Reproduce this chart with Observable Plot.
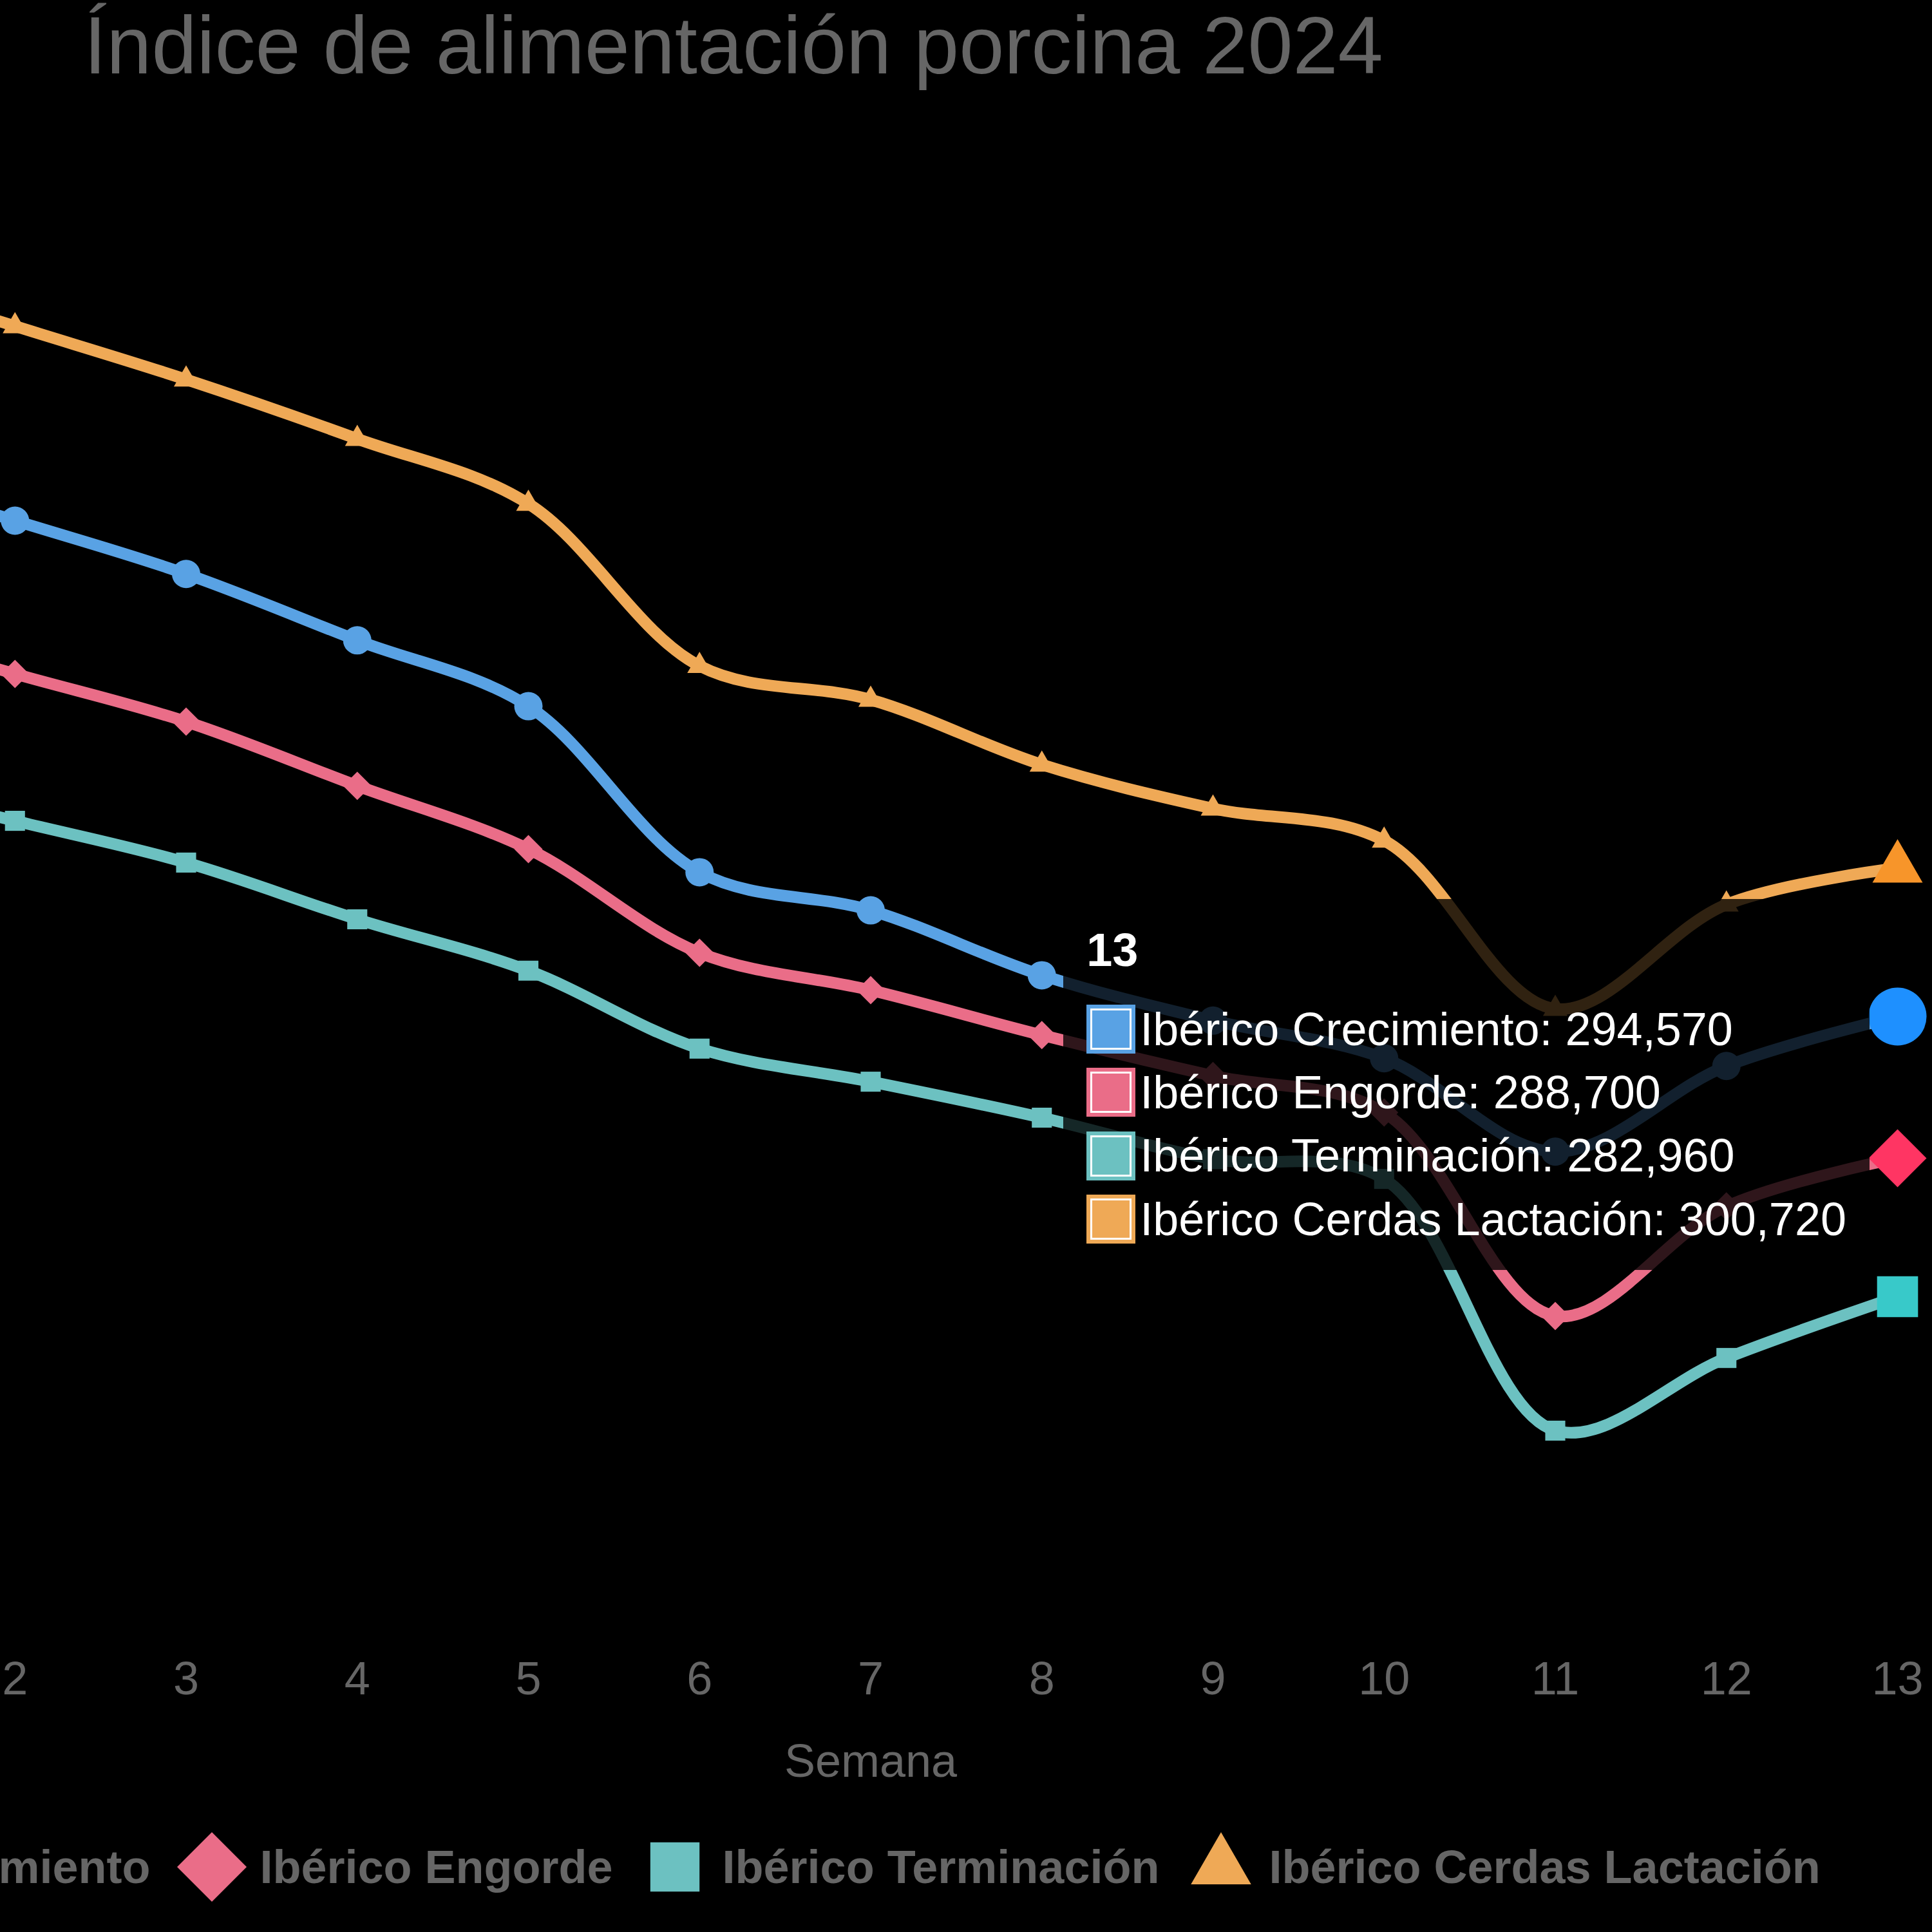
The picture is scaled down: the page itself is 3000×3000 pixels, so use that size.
<!DOCTYPE html>
<html lang="es">
<head>
<meta charset="utf-8">
<title>Índice de alimentación porcina 2024</title>
<script src="https://cdn.jsdelivr.net/npm/d3@7"></script>
<script src="https://cdn.jsdelivr.net/npm/@observablehq/plot@0.6"></script>
<style>
  html, body { margin: 0; padding: 0; background: #000; width: 3000px; height: 3000px; overflow: hidden; }
  /* the chart canvas is wider than the viewport; its left part (y axis) sits off screen */
  #frame {
    position: absolute; left: -722px; top: 0; width: 3722px; height: 3000px;
    font-family: "Helvetica Neue", Helvetica, Arial, "Liberation Sans", sans-serif;
  }
  #chart { position: absolute; left: 0; top: 0; }
  #title {
    position: absolute; left: 0; top: 8px; width: 100%;
    text-align: center; font-size: 126px; line-height: 1; color: #666; white-space: nowrap;
  }
  #legend {
    position: absolute; left: 0; top: 2856px; width: 100%;
    display: flex; justify-content: center; gap: 60px;
    font-size: 72px; font-weight: bold; line-height: 86.4px; color: #666; white-space: nowrap;
  }
  .legend-item { display: flex; align-items: center; }
  .legend-marker { flex: none; margin-right: 38px; overflow: visible; }
  .tip {
    position: absolute; transform: translateY(-50%);
    padding: 36px; background: rgba(0, 0, 0, 0.8); color: #fff;
    font-size: 72px; line-height: 86.4px; white-space: nowrap;
  }
  .tip-title { font-weight: bold; margin-bottom: 36px; }
  .tip-row { display: flex; align-items: center; }
  .tip-row + .tip-row { margin-top: 12px; }
  .swatch { flex: none; width: 76px; height: 76px; margin-right: 7px; }
</style>
</head>
<body>
<div id="frame">
  <div id="title">Índice de alimentación porcina 2024</div>
  <div id="chart"></div>
  <div id="legend"></div>
</div>
<script>
// Weekly feed index per category (2024)
const weeks = [1, 2, 3, 4, 5, 6, 7, 8, 9, 10, 11, 12, 13];
const seriesNames = ["Ibérico Crecimiento", "Ibérico Engorde", "Ibérico Terminación", "Ibérico Cerdas Lactación"];
const crecimiento = [317300, 315120, 312910, 310160, 307430, 300550, 298970, 296280, 294400, 292840, 288970, 292520, 294570];
const engorde     = [310800, 308770, 306790, 304130, 301510, 297210, 295660, 293800, 292110, 290590, 282160, 286700, 288700];
const terminacion = [304400, 302680, 300950, 298600, 296470, 293240, 291870, 290380, 288660, 287840, 277410, 280420, 282960];
const lactacion   = [325400, 323180, 320970, 318510, 315820, 309100, 307700, 305010, 303190, 301860, 294890, 299210, 300720];
const activeWeek = 13;

const seriesValues = [crecimiento, engorde, terminacion, lactacion];
const seriesColors = ["#59a2e4", "#ea6d88", "#6cc1c1", "#efa956"];
const hoverColors  = ["#1e90ff", "#ff3563", "#38c9c9", "#f7952a"];
const pointStyles  = ["circle", "rectRot", "rect", "triangle"];

// Point shapes: vertices lie on a circle of radius r (size = π r²)
const radiusOf = size => Math.sqrt(size / Math.PI);
const symbols = {
  circle: { draw(ctx, size) { const r = radiusOf(size); ctx.moveTo(r, 0); ctx.arc(0, 0, r, 0, 2 * Math.PI); } },
  rectRot: { draw(ctx, size) { const r = radiusOf(size); ctx.moveTo(0, -r); ctx.lineTo(r, 0); ctx.lineTo(0, r); ctx.lineTo(-r, 0); ctx.closePath(); } },
  rect: { draw(ctx, size) { const h = radiusOf(size) * Math.SQRT1_2; ctx.rect(-h, -h, 2 * h, 2 * h); } },
  triangle: { draw(ctx, size) { const r = radiusOf(size), s = r * Math.sin(Math.PI / 3); ctx.moveTo(0, -r); ctx.lineTo(s, r / 2); ctx.lineTo(-s, r / 2); ctx.closePath(); } }
};

const rows = seriesNames.flatMap((name, i) =>
  weeks.map((week, j) => ({ series: name, index: i, week, value: seriesValues[i][j] }))
);

// Draw the last series first so the first one ends on top
const order = d3.range(seriesNames.length).reverse();
const seriesMarks = order.flatMap(i => {
  const own = rows.filter(d => d.index === i);
  return [
    Plot.line(own, { x: "week", y: "value", stroke: seriesColors[i], strokeWidth: 18, curve: "catmull-rom" }),
    Plot.dot(own.filter(d => d.week !== activeWeek), { x: "week", y: "value", symbol: symbols[pointStyles[i]], r: 22, fill: seriesColors[i] }),
    Plot.dot(own.filter(d => d.week === activeWeek), { x: "week", y: "value", symbol: symbols[pointStyles[i]], r: 45, fill: hoverColors[i] })
  ];
});

const W = 3722, H = 3000;
const chart = Plot.plot({
  width: W,
  height: H,
  marginLeft: 479,
  marginRight: 54,
  marginTop: 250.4,
  marginBottom: 501.4,
  x: { domain: [1, 13] },
  y: { domain: [270000, 330000], axis: null },
  style: {
    background: "none",
    color: "#666",
    overflow: "visible",
    fontFamily: "\"Helvetica Neue\", Helvetica, Arial, \"Liberation Sans\", sans-serif"
  },
  marks: [
    Plot.axisX({ ticks: weeks, tickSize: 0, tickPadding: 81, fontSize: 72, tickFormat: d => String(d), label: null }),
    Plot.text(["Semana"], { text: d => d, frameAnchor: "bottom", lineAnchor: "top", dy: 209, fontSize: 72, fill: "#666" }),
    ...seriesMarks
  ]
});
document.getElementById("chart").append(chart);

// Legend
const legend = d3.select("#legend");
seriesNames.forEach((name, i) => {
  const item = legend.append("div").attr("class", "legend-item");
  const svg = item.append("svg").attr("class", "legend-marker")
    .attr("width", 72).attr("height", 72).attr("viewBox", "-36 -36 72 72");
  const p = d3.path();
  symbols[pointStyles[i]].draw(p, Math.PI * 54 * 54);
  svg.append("path").attr("d", p.toString()).attr("fill", seriesColors[i]);
  item.append("span").text(name);
});

// Tooltip for the active week, anchored to the left of its points
const xs = chart.scale("x"), ys = chart.scale("y");
const last = weeks.indexOf(activeWeek);
const anchorX = xs.apply(activeWeek) - 43;
const anchorY = d3.mean(seriesValues, v => ys.apply(v[last]));
const fmt = d3.format(",");
const tip = d3.select("#frame").append("div").attr("class", "tip")
  .style("right", (W - anchorX) + "px")
  .style("top", anchorY + "px");
tip.append("div").attr("class", "tip-title").text(String(activeWeek));
seriesNames.forEach((name, i) => {
  const row = tip.append("div").attr("class", "tip-row");
  row.append("span").attr("class", "swatch")
    .style("background", seriesColors[i])
    .style("box-shadow", `inset 0 0 0 6px ${seriesColors[i]}, inset 0 0 0 9px #fff`);
  row.append("span").text(`${name}: ${fmt(seriesValues[i][last])}`);
});
</script>
</body>
</html>
